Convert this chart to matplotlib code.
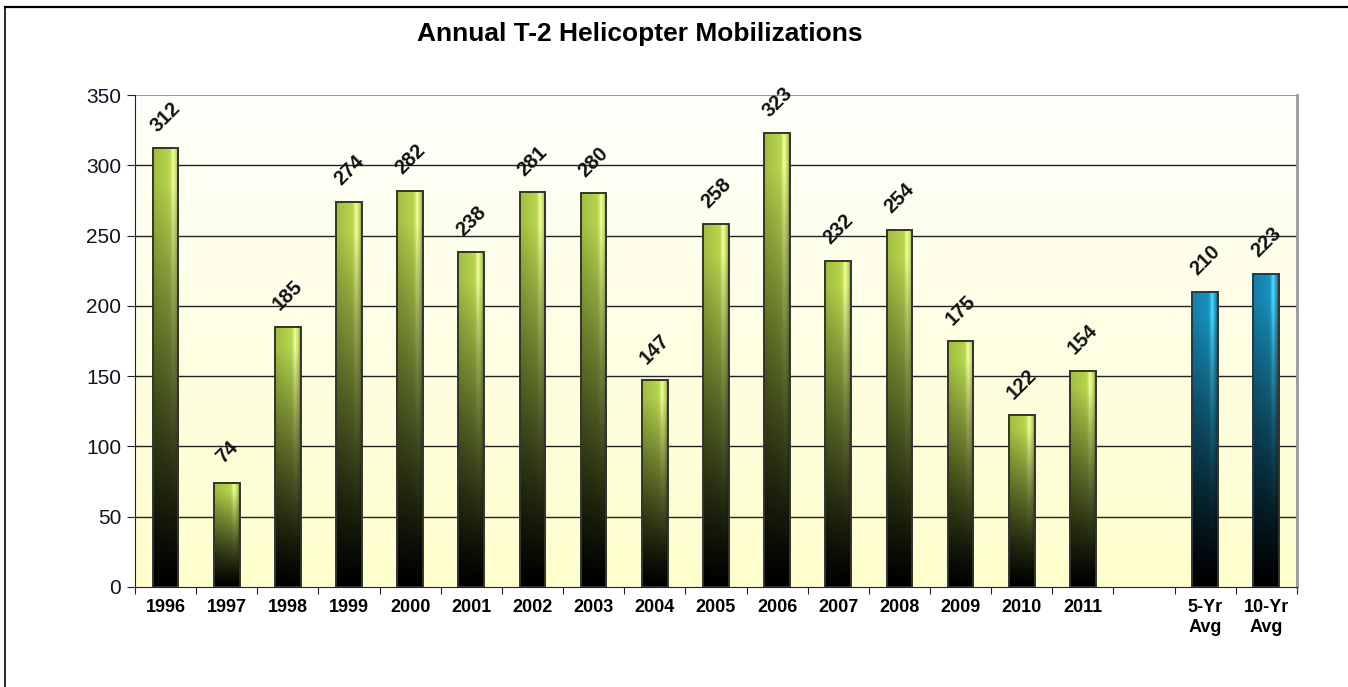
import numpy as np
import matplotlib
matplotlib.use("Agg")
import matplotlib.pyplot as plt
from matplotlib.patches import Rectangle
from matplotlib.colors import to_rgb

# Data
years = ["1996", "1997", "1998", "1999", "2000", "2001", "2002", "2003",
         "2004", "2005", "2006", "2007", "2008", "2009", "2010", "2011"]
year_values = [312, 74, 185, 274, 282, 238, 281, 280,
               147, 258, 323, 232, 254, 175, 122, 154]
avg_labels = ["5-Yr\nAvg", "10-Yr\nAvg"]
avg_values = [210, 223]

title = "Annual T-2 Helicopter Mobilizations"

plt.rcParams['font.family'] = ['Liberation Sans', 'DejaVu Sans']

categories = years + [""] + avg_labels
values = year_values + [None] + avg_values
n = len(categories)

fig = plt.figure(figsize=(13.48, 6.87), dpi=100)
ax = fig.add_axes([0.1001, 0.1456, 0.8620, 0.7161])
ax.set_xlim(-0.5, n - 0.5)
ax.set_ylim(0, 350)

# Plot-area background: near white at top fading to pale yellow at the bottom
bg = np.linspace(0, 1, 256)[:, None]
top_c = np.array(to_rgb("#fefefb"))
bot_c = np.array(to_rgb("#ffffcc"))
bg_img = top_c[None, None, :] * (1 - bg[..., None]) + bot_c[None, None, :] * bg[..., None]
ax.imshow(bg_img, extent=[-0.5, n - 0.5, 0, 350], origin='upper', aspect='auto', zorder=0)

# Gridlines
for yv in range(50, 351, 50):
    ax.axhline(yv, color="#999999" if yv == 350 else "#222222",
               lw=1.4 if yv == 350 else 1.0, zorder=1)


def bar_image(base_hex, hl_hex, h=300, w=60):
    base = np.array(to_rgb(base_hex))
    hl_c = np.array(to_rgb(hl_hex))
    t = np.linspace(0, 1, h)[:, None]          # 0 bottom -> 1 top
    vert = np.clip(t / 0.92, 0, 1) ** 1.2
    xs = np.linspace(0, 1, w)[None, :]
    # horizontal shading: slightly darker left, bright highlight on the right, dark edge
    prof = 0.82 + 0.18 * xs
    prof = np.where(xs > 0.90, prof * (1 - (xs - 0.90) * 3.5), prof)
    img = base[None, None, :] * (vert * prof)[..., None]
    hl = 0.9 * np.exp(-((xs - 0.78) / 0.08) ** 2) * vert
    img = img * (1 - hl[..., None]) + (hl_c[None, None, :] * vert[..., None]) * hl[..., None]
    return np.clip(img, 0, 1)


green_img = bar_image("#c4e452", "#f4ffa0")
blue_img = bar_image("#1a9acb", "#4ce0ff")

bar_w = 0.42
for i, v in enumerate(values):
    if v is None:
        continue
    img = blue_img if i >= 17 else green_img
    x0 = i - bar_w / 2
    rect = Rectangle((x0, 0), bar_w, v, facecolor="none", edgecolor="#333333", lw=1.4, zorder=4)
    ax.add_patch(rect)
    im = ax.imshow(img, extent=[x0, x0 + bar_w, 0, v], origin='lower', aspect='auto', zorder=3)
    im.set_clip_path(rect)
    ax.annotate(f"{v}", (i, v), xytext=(0, 22.5), textcoords="offset points",
                rotation=45, ha="center", va="center", fontsize=14.5, fontweight="bold",
                color="#111111", zorder=5)

# Axes styling
ax.spines['top'].set_visible(False)
ax.spines['right'].set_color("#999999")
ax.spines['right'].set_linewidth(2)
ax.spines['left'].set_color("#222222")
ax.spines['bottom'].set_color("#222222")
ax.set_yticks(range(0, 351, 50))
ax.tick_params(axis='y', direction='out', length=6, labelsize=15, colors="#222222",
               labelcolor="#111122", pad=4)
ax.set_xticks(np.arange(-0.5, n, 1.0))
ax.set_xticklabels([])
ax.tick_params(axis='x', which='major', direction='out', length=5, color="#222222")
ax.set_xticks(np.arange(n), minor=True)
ax.set_xticklabels(categories, minor=True, fontweight="bold", fontsize=13)
ax.tick_params(axis='x', which='minor', length=0, pad=9)

fig.text(0.475, 0.951, title, ha="center", va="center", fontsize=19, fontweight="bold")

# Outer frame (top and left edges)
fig.add_artist(plt.Line2D([5 / 1348, 1.0], [1 - 7 / 687, 1 - 7 / 687], color="black", lw=1.6,
                          transform=fig.transFigure))
fig.add_artist(plt.Line2D([5 / 1348, 5 / 1348], [0, 1 - 7 / 687], color="black", lw=1.2,
                          transform=fig.transFigure))

fig.savefig("out.png", dpi=100, facecolor="white")
